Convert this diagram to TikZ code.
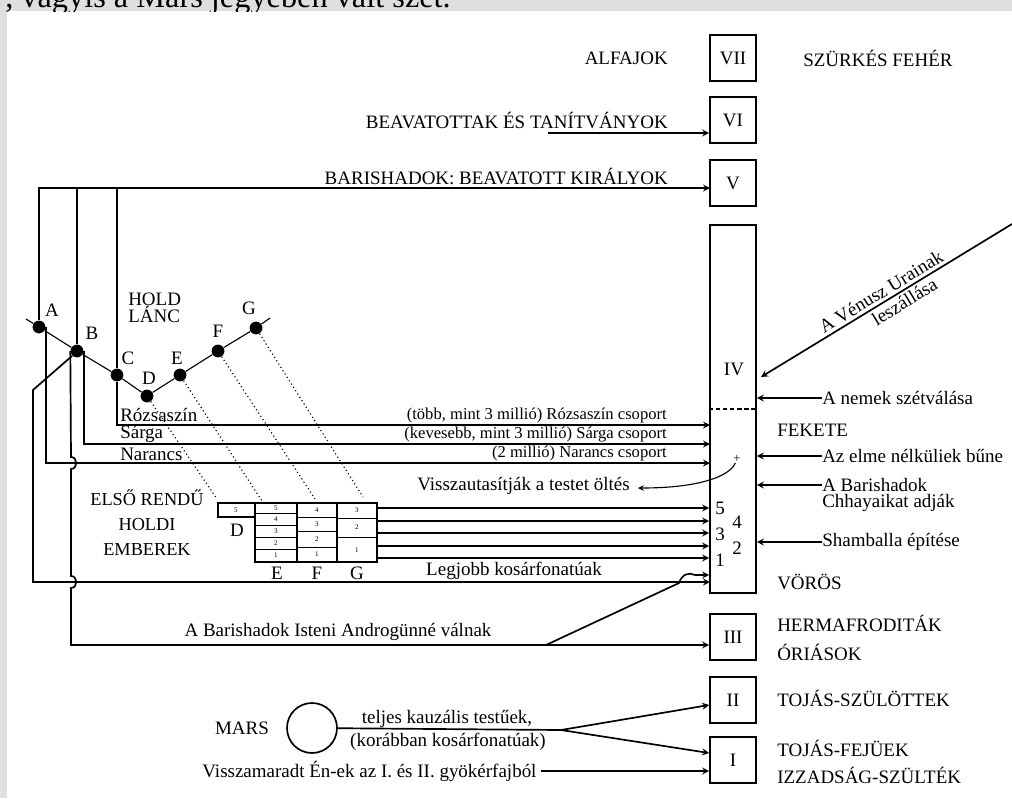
\documentclass[tikz,border=0pt]{standalone}
\usepackage{fontspec}
\setmainfont{Liberation Serif}

\begin{document}
\begin{tikzpicture}[
        x=0.025cm, y=-0.025cm,
        rbox/.style={rectangle, draw, very thick, minimum size=1.15cm, inner sep=0pt, font=\fontsize{13.5}{16}\selectfont},
        dot/.style={circle, fill, minimum size=0.32cm, inner sep=0pt},
        txt/.style={inner sep=0pt, font=\fontsize{13.5}{16}\selectfont},
        grp/.style={inner sep=0pt, anchor=south east, font=\fontsize{11.8}{14}\selectfont},
        num/.style={inner sep=0pt, font=\fontsize{5}{5}\selectfont},
        >=stealth
    ]

    % Page: grey scan border and the cut-off text line above
    \useasboundingbox (0,0) rectangle (1012,798);
    \fill[gray!25] (0,0) rectangle (1012,798);
    \fill[white] (7,11) rectangle (1012,798);
    \begin{scope}
        \clip (0,0) rectangle (1012,11);
        \node[anchor=base west, inner sep=0pt, font=\fontsize{23}{26}\selectfont] (above) at (5,7.5) {, vagyis a Mars jegyében vált szét.};
    \end{scope}

    % Root races
    \node[rbox] (r7) at (733,58) {VII};
    \node[rbox] (r6) at (733,120) {VI};
    \node[rbox] (r5) at (733,183) {V};
    \node[rbox, minimum height=9.2cm] (r4) at (733,409) {};
    \node[rbox] (r3) at (733,637) {III};
    \node[rbox] (r2) at (733,700) {II};
    \node[rbox] (r1) at (733,760) {I};

    % Inside the fourth race
    \node[txt] (iv) at (734,369) {IV};
    \coordinate (sep) at (733,409);
    \draw[densely dashed, thick] (sep -| r4.west) -- (sep -| r4.east);
    \node[txt, font=\fontsize{9}{9}\selectfont] (plus) at (737,459) {+};
    \node[txt] (n5) at (720,508) {5};
    \node[txt] (n4) at (737,522) {4};
    \node[txt] (n3) at (720,534) {3};
    \node[txt] (n2) at (737,548) {2};
    \node[txt] (n1) at (720,560) {1};

    % Top labels
    \node[txt, anchor=east] (alf) at (668,58) {ALFAJOK};
    \node[txt, anchor=west] (szf) at (803,58) {SZÜRKÉS FEHÉR};
    \node[txt, anchor=east] (bea) at (668,120) {BEAVATOTTAK ÉS TANÍTVÁNYOK};
    \coordinate (vi0) at (548,133);
    \draw[->, very thick] (vi0) -- (vi0 -| r6.west);
    \node[txt, anchor=east] (kir) at (668,176) {BARISHADOK: BEAVATOTT KIRÁLYOK};

    % Moon chain
    \node[dot] (A) at (39,327) {};
    \node[dot] (B) at (77,351) {};
    \node[dot] (C) at (117,375) {};
    \node[dot] (D) at (147,396) {};
    \node[dot] (E) at (180,375) {};
    \node[dot] (F) at (218,351) {};
    \node[dot] (G) at (256,328) {};
    \coordinate (c0) at (26,319);
    \coordinate (c8) at (270,318);
    \draw[thick] (c0) -- (A) -- (B) -- (C) -- (D) -- (E) -- (F) -- (G) -- (c8);
    \node[txt] (la) at (52,310) {A};
    \node[txt] (lb) at (92,333) {B};
    \node[txt] (lc) at (128,358) {C};
    \node[txt] (ld0) at (149,378) {D};
    \node[txt] (le0) at (177,358) {E};
    \node[txt] (lf0) at (218,331) {F};
    \node[txt] (lg0) at (249,308) {G};
    \node[txt, anchor=west, align=left, font=\fontsize{13.5}{12}\selectfont] (hold) at (128,308) {HOLD\\LÁNC};

    % Lines from the chain into the races
    \coordinate (v5) at (710,188);
    \draw[->, very thick] (A) |- (v5);
    \draw[very thick] (B) -- (B |- v5);
    \draw[very thick] (C) -- (C |- v5);

    \coordinate (roz) at (710,425);
    \coordinate (sar) at (710,444);
    \coordinate (nar) at (710,463);
    \draw[->, very thick] (C) |- (roz);
    \draw[->, very thick] (B.east) |- (sar);
    \draw[->, very thick] (A.east) |- (nar);
    \node[txt, anchor=west] (lroz) at (120,415) {Rózsaszín};
    \node[txt, anchor=west] (lsar) at (120,434) {Sárga};
    \node[txt, anchor=west] (lnar) at (120,454) {Narancs};
    \node[grp] (groz) at (667,423) {(több, mint 3 millió) Rózsaszín csoport};
    \node[grp] (gsar) at (667,442) {(kevesebb, mint 3 millió) Sárga csoport};
    \node[grp] (gnar) at (667,461) {(2 millió) Narancs csoport};

    \node[txt, anchor=east] (vissza) at (630,486) {Visszautasítják a testet öltés};
    \coordinate (vtip) at (638,488);
    \draw[->, thick] (plus) .. controls (730,476) and (700,488) .. (vtip);

    \coordinate (low) at (710,582);
    \draw[->, very thick] (B.south west) -- (33,390) |- (low);
    \node[txt] (legj) at (514,571) {Legjobb kosárfonatúak};

    \coordinate (andro) at (546,645);
    \draw[->, very thick] (B.west) -- (71,457) .. controls (78,457) and (78,469) .. (71,469)
        -- (71,576) .. controls (78,576) and (78,588) .. (71,588) |- (andro) -- (andro -| r3.west);
    \node[txt] (isten) at (338,632) {A Barishadok Isteni Androgünné válnak};
    \coordinate (hump) at (695,575);
    \draw[->, very thick] (andro) -- (679,583) .. controls (682,574) and (689,572) .. (hump) -- (hump -| r4.west);

    % First order lunar men
    \node[txt, align=center, font=\fontsize{13}{17.8}\selectfont] (holdi) at (147,523) {ELSŐ RENDŰ\\HOLDI\\EMBEREK};
    \draw[thick] (218,503) rectangle (255,517);
    \draw[thick] (255,503) rectangle (377,562);
    \draw[thick] (297,503) -- (297,562) (337,503) -- (337,562);
    \foreach \y in {513,525,537,549} \draw (255,\y) -- (297,\y);
    \foreach \y in {517,531,547} \draw (297,\y) -- (337,\y);
    \foreach \y in {518,537} \draw (337,\y) -- (377,\y);
    \node[num] (d5) at (236,510) {5};
    \foreach \n/\y in {5/508,4/519,3/531,2/543,1/555} \node[num] (e\n) at (276,\y) {\n};
    \foreach \n/\y in {4/510,3/524,2/539,1/554} \node[num] (f\n) at (317,\y) {\n};
    \foreach \n/\y in {3/510,2/527,1/550} \node[num] (g\n) at (357,\y) {\n};
    \node[txt] (ld) at (237,530) {D};
    \node[txt] (le) at (277,573) {E};
    \node[txt] (lf) at (317,573) {F};
    \node[txt] (lg) at (357,573) {G};

    \coordinate (td) at (217,499);
    \coordinate (te) at (262,501);
    \coordinate (tf) at (315,499);
    \coordinate (tg) at (363,497);
    \foreach \p/\q in {D/td, E/te, F/tf, G/tg}
        \draw[dotted, thick] (\p) -- (\q);

    \foreach \k/\y in {5/508, 4/521, 3/533, 2/546, 1/558} {
        \coordinate (row\k) at (377,\y);
        \draw[->, very thick] (row\k) -- (row\k -| r4.west);
    }

    % Right hand labels
    \coordinate (ven0) at (1012,224);
    \coordinate (ven1) at (761,377);
    \draw[->, very thick] (ven0) -- node[txt, sloped, above, inner sep=2pt, pos=0.5] (ven) {A Vénusz Urainak}
        node[txt, sloped, below, inner sep=2pt, pos=0.45] (lesz) {leszállása} (ven1);
    \node[txt, anchor=west] (nem) at (822,398) {A nemek szétválása};
    \draw[->, very thick] (nem.west) -- (nem.west -| r4.east);
    \node[txt, anchor=west] (fek) at (777,430) {FEKETE};
    \node[txt, anchor=west] (elme) at (822,456) {Az elme nélküliek bűne};
    \draw[->, very thick] (elme.west) -- (elme.west -| r4.east);
    \node[txt, anchor=west] (bar1) at (822,485) {A Barishadok};
    \node[txt, anchor=west] (bar2) at (822,503) {Chhayaikat adják};
    \draw[->, very thick] (bar1.west) -- (bar1.west -| r4.east);
    \node[txt, anchor=west] (sham) at (822,542) {Shamballa építése};
    \draw[->, very thick] (sham.west) -- (sham.west -| r4.east);
    \node[txt, anchor=west] (vor) at (777,582) {VÖRÖS};
    \node[txt, anchor=west] (herm) at (777,623) {HERMAFRODITÁK};
    \node[txt, anchor=west] (oria) at (777,652) {ÓRIÁSOK};
    \node[txt, anchor=west] (tszu) at (777,698) {TOJÁS-SZÜLÖTTEK};
    \node[txt, anchor=west] (tfej) at (777,748) {TOJÁS-FEJÜEK};
    \node[txt, anchor=west] (izz) at (777,775) {IZZADSÁG-SZÜLTÉK};

    % Mars
    \node[circle, draw, very thick, minimum size=1.25cm] (mars) at (312,728) {};
    \node[txt] (marsl) at (242,728) {MARS};
    \coordinate (split) at (561,730);
    \draw[very thick] (mars) -- (split);
    \draw[->, very thick] (split) -- ([yshift=-0.125cm]r2.west);
    \draw[->, very thick] (split) -- ([yshift=0.175cm]r1.west);
    \node[txt] (tel) at (447,719) {teljes kauzális testűek,};
    \node[txt] (kor) at (448,742) {(korábban kosárfonatúak)};
    \node[txt, anchor=east, inner sep=3pt] (vmar) at (541,771) {Visszamaradt Én-ek az I. és II. gyökérfajból};
    \draw[->, very thick] (vmar.east) -- (vmar.east -| r1.west);

\end{tikzpicture}
\end{document}
